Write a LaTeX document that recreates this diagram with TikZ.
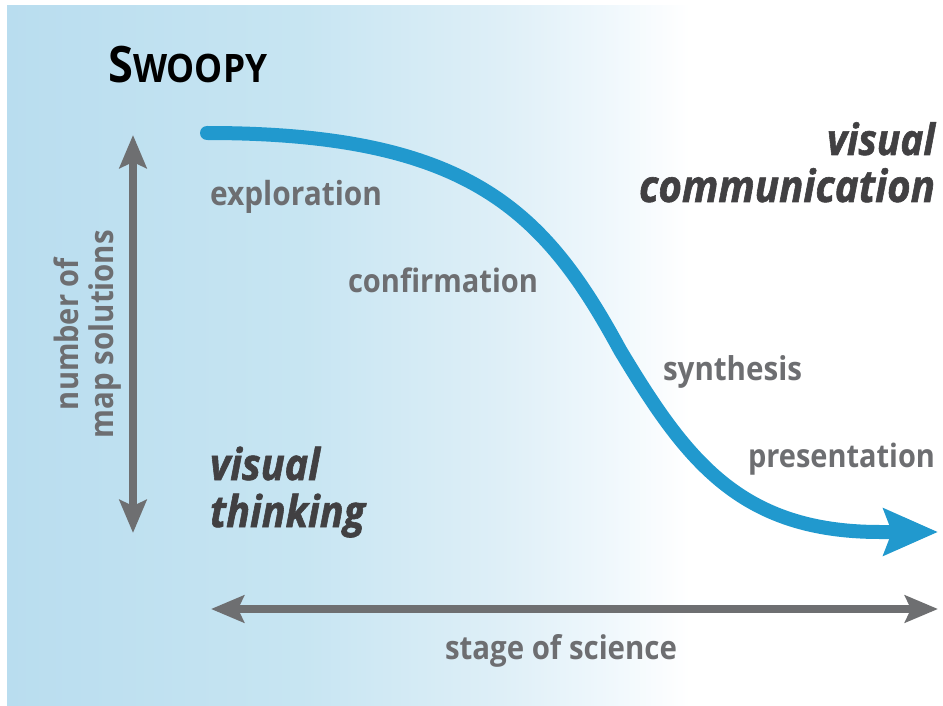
\documentclass[tikz,border=0pt]{standalone}
\usepackage{fontspec}
\setmainfont{Open Sans}[FakeStretch=0.9]
\font\heavyit="Open Sans/BI:embolden=1.3;extend=0.9" at 40pt
\usepackage{graphicx}
\usetikzlibrary{arrows.meta}
\definecolor{bgA}{RGB}{185,221,239}
\definecolor{bgB}{RGB}{199,229,242}
\definecolor{bgC}{RGB}{222,239,247}
\definecolor{bgD}{RGB}{238,247,252}
\definecolor{labelgray}{RGB}{109,110,113}
\definecolor{arrowgray}{RGB}{110,111,113}
\definecolor{darktext}{RGB}{65,64,66}
\definecolor{curveblue}{RGB}{33,153,206}
\pgfdeclarehorizontalshading{bgshade}{100bp}{color(0bp)=(bgA); color(25bp)=(bgA); color(40.65bp)=(bgB); color(51.34bp)=(bgC); color(56.68bp)=(bgD); color(61.5bp)=(white); color(100bp)=(white)}
\tikzset{
  lbl/.style={inner sep=0pt, outer sep=0pt, text=labelgray, font=\bfseries\fontsize{30pt}{36pt}\selectfont},
  bigit/.style={inner sep=0pt, outer sep=0pt, text=darktext, font=\heavyit},
  grayaxis/.style={draw=arrowgray, line width=8pt,
    {Stealth[length=33pt,width=27pt,inset=6pt]}-{Stealth[length=33pt,width=27pt,inset=6pt]}},
  bluecurve/.style={draw=curveblue, line width=14pt, line cap=round,
    -{Stealth[length=54pt,width=46pt,inset=8pt]}}
}
\begin{document}
\begin{tikzpicture}[x=1pt,y=-1pt]
\useasboundingbox (0,0) rectangle (943,706);
\fill[white] (0,0) rectangle (943,706);
\shade[shading=bgshade] (7,6) rectangle (943,706);

% axes
\coordinate (vtop) at (133,135);
\coordinate (vbot) at (133,533);
\coordinate (hleft) at (211,609);
\coordinate (hright) at (938,609);
\draw[grayaxis] (vtop) -- (vbot);
\draw[grayaxis] (hleft) -- (hright);

% curve
\coordinate (cstart) at (207,133);
\coordinate (cend) at (938,532);
\draw[bluecurve] (cstart) .. controls (470,133) and (545,212) .. (620,350)
  .. controls (686,460) and (740,532) .. (880,532) -- (cend);

% title
\node[anchor=base west, inner sep=0pt, text=black, font=\bfseries] (title) at (108,83)
  {\resizebox{159pt}{!}{{\fontsize{41pt}{41pt}\selectfont S}{\fontsize{32pt}{32pt}\selectfont WOOPY}}};

% stage labels
\node[lbl, anchor=base west] (explo) at (210,205) {\resizebox{172pt}{!}{exploration}};
\node[lbl, anchor=base west] (confi) at (348,292) {\resizebox{190pt}{!}{confirmation}};
\node[lbl, anchor=base west] (synth) at (663,380) {\resizebox{139pt}{!}{synthesis}};
\node[lbl, anchor=base west] (prese) at (748,467) {\resizebox{187pt}{!}{presentation}};
\node[lbl, anchor=base west] (stage) at (445,659) {\resizebox{232pt}{!}{stage of science}};

% axis label (rotated)
\node[lbl, rotate=90, anchor=base] (numof) at (78,334) {\resizebox{152pt}{!}{number of}};
\node[lbl, rotate=90, anchor=base] (mapsol) at (113,334) {\resizebox{208pt}{!}{map solutions}};

% big labels
\node[bigit, anchor=base east] (vc1) at (935,155) {\resizebox{108pt}{!}{visual}};
\node[bigit, anchor=base east] (vc2) at (935,202) {\resizebox{296pt}{!}{communication}};
\node[bigit, anchor=base west] (vt1) at (210,480) {\resizebox{110pt}{!}{visual}};
\node[bigit, anchor=base west] (vt2) at (210,527) {\resizebox{155pt}{!}{thinking}};
\end{tikzpicture}
\end{document}
